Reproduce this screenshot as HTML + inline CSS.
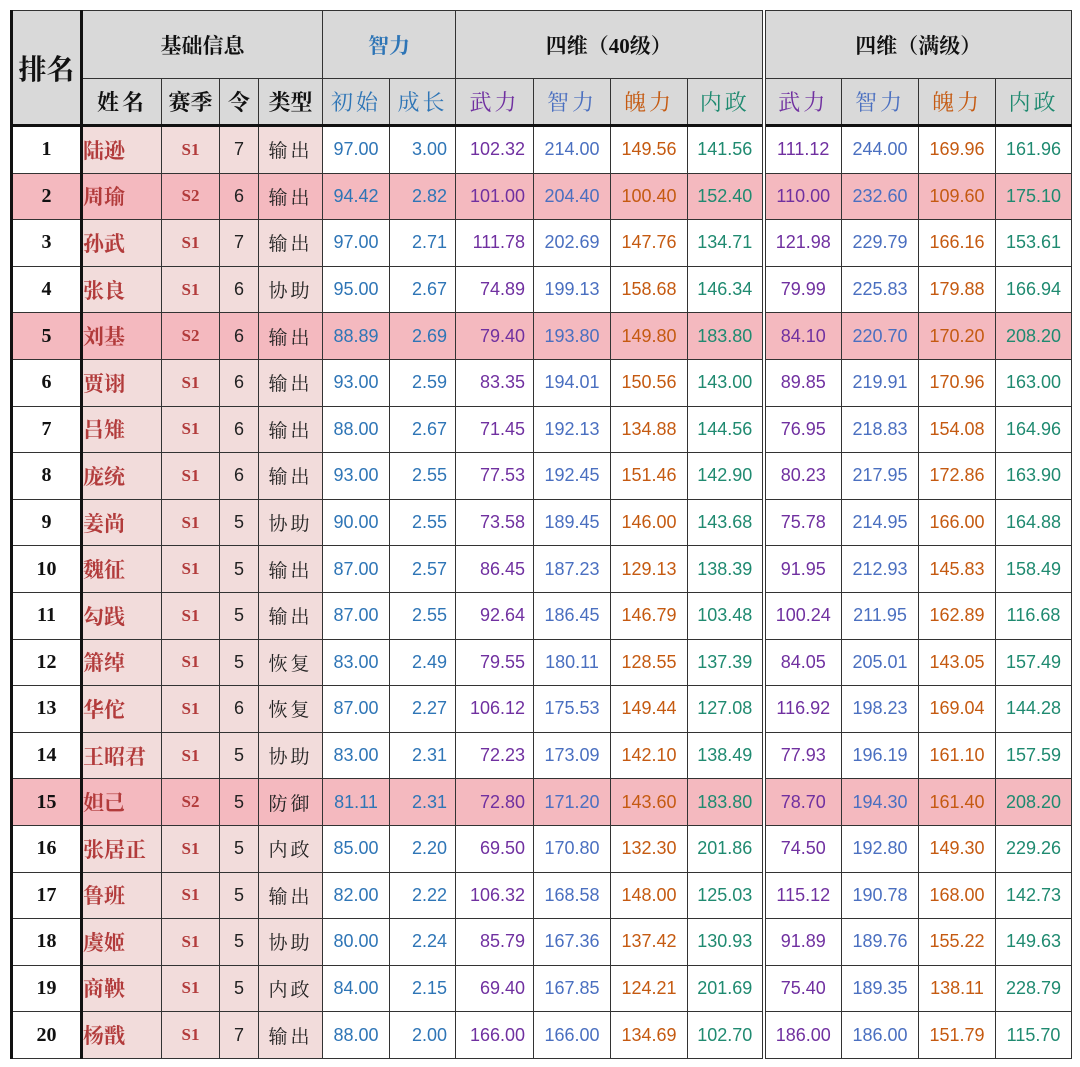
<!DOCTYPE html>
<html><head><meta charset="utf-8"><style>
body{margin:0;background:#fff;width:1080px;height:1067px;overflow:hidden}
table{position:absolute;left:10px;top:10px;border-collapse:collapse;table-layout:fixed;width:1060px}
td{border:1px solid #333;padding:0;text-align:center;white-space:nowrap;overflow:hidden}
.h td{background:#d9d9d9;font-family:"Liberation Serif","Noto Serif CJK SC",serif;font-weight:bold;font-size:21px;color:#111}
.h td.b{color:#2e75b6}
.sub td{font-weight:normal;font-family:"Liberation Serif","Noto Serif CJK SC",serif;font-size:22px;letter-spacing:3px}
.r td{height:45.6px;font-family:"Liberation Sans","Noto Sans CJK SC",sans-serif;font-size:18px}
.r td:nth-child(1){font-family:"Liberation Serif",serif;font-weight:bold;font-size:20px;color:#111;border-left:3px solid #111;border-right:3px solid #111}
.r td:nth-child(2){font-family:"Liberation Serif","Noto Serif CJK SC",serif;font-weight:bold;color:#b23b3b;font-size:21px;text-align:left;background:#f2dcdb}
.r td:nth-child(3){font-family:"Liberation Serif",serif;font-weight:bold;color:#b23b3b;font-size:17px;background:#f2dcdb}
.r td:nth-child(4){background:#f2dcdb;color:#222}
.r td:nth-child(5){font-family:"Liberation Serif","Noto Serif CJK SC",serif;font-size:19px;letter-spacing:3px;background:#f2dcdb;color:#222}
.r td:nth-child(6){color:#2e75b6}
.r td:nth-child(7){color:#2e75b6;text-align:right;padding-right:8px}
.r td:nth-child(8),.r td:nth-child(12){color:#7030a0}
.r td:nth-child(9),.r td:nth-child(13){color:#4a6fc0}
.r td:nth-child(10),.r td:nth-child(14){color:#c55a11}
.r td:nth-child(11),.r td:nth-child(15){color:#1f8a70}
.r td:nth-child(8){text-align:right;padding-right:8px}
.r td:nth-child(12){border-left:4px double #333}
.p td{background:#f4b9bf !important}
.h td.c1{color:#2e75b6}.h td.c2{color:#7030a0}.h td.c3{color:#4a6fc0}.h td.c4{color:#c55a11}.h td.c5{color:#1f8a70}
</style></head><body>
<table>
<colgroup><col style="width:70px"><col style="width:80px"><col style="width:58px"><col style="width:39px"><col style="width:64px"><col style="width:67px"><col style="width:66px"><col style="width:78px"><col style="width:77px"><col style="width:77px"><col style="width:76px"><col style="width:78px"><col style="width:77px"><col style="width:77px"><col style="width:76px"></colgroup>
<tr class="h" style="height:68px"><td rowspan="2" style="font-size:28px;border-left:3px solid #111;border-right:3px solid #111;border-bottom:3px solid #111">排名</td><td colspan="4">基础信息</td><td colspan="2" class="b">智力</td><td colspan="4">四维（40级）</td><td colspan="4" style="border-left:4px double #333">四维（满级）</td></tr>
<tr class="h sub" style="height:47px"><td style="font-weight:bold;border-bottom:3px solid #111">姓名</td><td style="font-weight:bold;letter-spacing:0;border-bottom:3px solid #111">赛季</td><td style="font-weight:bold;letter-spacing:0;border-bottom:3px solid #111">令</td><td style="font-weight:bold;letter-spacing:0;border-bottom:3px solid #111">类型</td><td class="c1" style="border-bottom:3px solid #111">初始</td><td class="c1" style="border-bottom:3px solid #111">成长</td><td class="c2" style="border-bottom:3px solid #111">武力</td><td class="c3" style="border-bottom:3px solid #111">智力</td><td class="c4" style="border-bottom:3px solid #111">魄力</td><td class="c5" style="border-bottom:3px solid #111">内政</td><td class="c2" style="border-bottom:3px solid #111;border-left:4px double #333">武力</td><td class="c3" style="border-bottom:3px solid #111">智力</td><td class="c4" style="border-bottom:3px solid #111">魄力</td><td class="c5" style="border-bottom:3px solid #111">内政</td></tr>
<tr class="r"><td>1</td><td>陆逊</td><td>S1</td><td>7</td><td>输出</td><td>97.00</td><td>3.00</td><td>102.32</td><td>214.00</td><td>149.56</td><td>141.56</td><td>111.12</td><td>244.00</td><td>169.96</td><td>161.96</td></tr>
<tr class="r p"><td>2</td><td>周瑜</td><td>S2</td><td>6</td><td>输出</td><td>94.42</td><td>2.82</td><td>101.00</td><td>204.40</td><td>100.40</td><td>152.40</td><td>110.00</td><td>232.60</td><td>109.60</td><td>175.10</td></tr>
<tr class="r"><td>3</td><td>孙武</td><td>S1</td><td>7</td><td>输出</td><td>97.00</td><td>2.71</td><td>111.78</td><td>202.69</td><td>147.76</td><td>134.71</td><td>121.98</td><td>229.79</td><td>166.16</td><td>153.61</td></tr>
<tr class="r"><td>4</td><td>张良</td><td>S1</td><td>6</td><td>协助</td><td>95.00</td><td>2.67</td><td>74.89</td><td>199.13</td><td>158.68</td><td>146.34</td><td>79.99</td><td>225.83</td><td>179.88</td><td>166.94</td></tr>
<tr class="r p"><td>5</td><td>刘基</td><td>S2</td><td>6</td><td>输出</td><td>88.89</td><td>2.69</td><td>79.40</td><td>193.80</td><td>149.80</td><td>183.80</td><td>84.10</td><td>220.70</td><td>170.20</td><td>208.20</td></tr>
<tr class="r"><td>6</td><td>贾诩</td><td>S1</td><td>6</td><td>输出</td><td>93.00</td><td>2.59</td><td>83.35</td><td>194.01</td><td>150.56</td><td>143.00</td><td>89.85</td><td>219.91</td><td>170.96</td><td>163.00</td></tr>
<tr class="r"><td>7</td><td>吕雉</td><td>S1</td><td>6</td><td>输出</td><td>88.00</td><td>2.67</td><td>71.45</td><td>192.13</td><td>134.88</td><td>144.56</td><td>76.95</td><td>218.83</td><td>154.08</td><td>164.96</td></tr>
<tr class="r"><td>8</td><td>庞统</td><td>S1</td><td>6</td><td>输出</td><td>93.00</td><td>2.55</td><td>77.53</td><td>192.45</td><td>151.46</td><td>142.90</td><td>80.23</td><td>217.95</td><td>172.86</td><td>163.90</td></tr>
<tr class="r"><td>9</td><td>姜尚</td><td>S1</td><td>5</td><td>协助</td><td>90.00</td><td>2.55</td><td>73.58</td><td>189.45</td><td>146.00</td><td>143.68</td><td>75.78</td><td>214.95</td><td>166.00</td><td>164.88</td></tr>
<tr class="r"><td>10</td><td>魏征</td><td>S1</td><td>5</td><td>输出</td><td>87.00</td><td>2.57</td><td>86.45</td><td>187.23</td><td>129.13</td><td>138.39</td><td>91.95</td><td>212.93</td><td>145.83</td><td>158.49</td></tr>
<tr class="r"><td>11</td><td>勾践</td><td>S1</td><td>5</td><td>输出</td><td>87.00</td><td>2.55</td><td>92.64</td><td>186.45</td><td>146.79</td><td>103.48</td><td>100.24</td><td>211.95</td><td>162.89</td><td>116.68</td></tr>
<tr class="r"><td>12</td><td>箫绰</td><td>S1</td><td>5</td><td>恢复</td><td>83.00</td><td>2.49</td><td>79.55</td><td>180.11</td><td>128.55</td><td>137.39</td><td>84.05</td><td>205.01</td><td>143.05</td><td>157.49</td></tr>
<tr class="r"><td>13</td><td>华佗</td><td>S1</td><td>6</td><td>恢复</td><td>87.00</td><td>2.27</td><td>106.12</td><td>175.53</td><td>149.44</td><td>127.08</td><td>116.92</td><td>198.23</td><td>169.04</td><td>144.28</td></tr>
<tr class="r"><td>14</td><td>王昭君</td><td>S1</td><td>5</td><td>协助</td><td>83.00</td><td>2.31</td><td>72.23</td><td>173.09</td><td>142.10</td><td>138.49</td><td>77.93</td><td>196.19</td><td>161.10</td><td>157.59</td></tr>
<tr class="r p"><td>15</td><td>妲己</td><td>S2</td><td>5</td><td>防御</td><td>81.11</td><td>2.31</td><td>72.80</td><td>171.20</td><td>143.60</td><td>183.80</td><td>78.70</td><td>194.30</td><td>161.40</td><td>208.20</td></tr>
<tr class="r"><td>16</td><td>张居正</td><td>S1</td><td>5</td><td>内政</td><td>85.00</td><td>2.20</td><td>69.50</td><td>170.80</td><td>132.30</td><td>201.86</td><td>74.50</td><td>192.80</td><td>149.30</td><td>229.26</td></tr>
<tr class="r"><td>17</td><td>鲁班</td><td>S1</td><td>5</td><td>输出</td><td>82.00</td><td>2.22</td><td>106.32</td><td>168.58</td><td>148.00</td><td>125.03</td><td>115.12</td><td>190.78</td><td>168.00</td><td>142.73</td></tr>
<tr class="r"><td>18</td><td>虞姬</td><td>S1</td><td>5</td><td>协助</td><td>80.00</td><td>2.24</td><td>85.79</td><td>167.36</td><td>137.42</td><td>130.93</td><td>91.89</td><td>189.76</td><td>155.22</td><td>149.63</td></tr>
<tr class="r"><td>19</td><td>商鞅</td><td>S1</td><td>5</td><td>内政</td><td>84.00</td><td>2.15</td><td>69.40</td><td>167.85</td><td>124.21</td><td>201.69</td><td>75.40</td><td>189.35</td><td>138.11</td><td>228.79</td></tr>
<tr class="r"><td>20</td><td>杨戬</td><td>S1</td><td>7</td><td>输出</td><td>88.00</td><td>2.00</td><td>166.00</td><td>166.00</td><td>134.69</td><td>102.70</td><td>186.00</td><td>186.00</td><td>151.79</td><td>115.70</td></tr>
</table>
</body></html>
